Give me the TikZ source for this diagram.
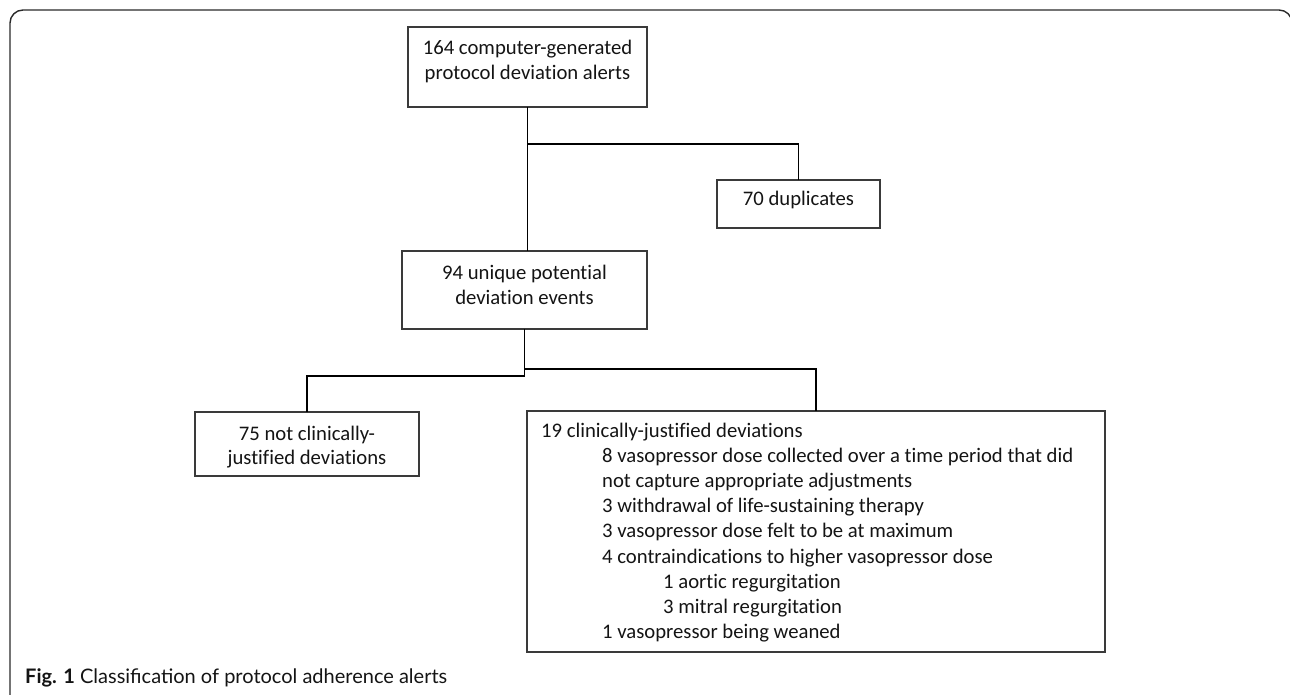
\documentclass[tikz,border=0pt]{standalone}
\usepackage{fontspec}
\setmainfont{Carlito}[RawFeature={-liga;-clig;-calt;-dlig;-rlig}]
\newfontfamily\capfont{Lato}
\usetikzlibrary{calc}
\definecolor{boxgray}{HTML}{3A3A3A}
\definecolor{textcol}{HTML}{141414}
\definecolor{framecol}{HTML}{2A2A2A}
\begin{document}
\begin{tikzpicture}[x=1pt,y=-1pt,
  box/.style={draw=boxgray, line width=1.3pt, anchor=north west, inner sep=0pt, outer sep=0pt},
  conn/.style={draw=black, line width=1.7pt},
  txt/.style={anchor=base, inner sep=0pt, font=\fontsize{20.7}{25}\selectfont, text=textcol},
  ltxt/.style={txt, anchor=base west},
  frameline/.style={draw=framecol, line width=1.4pt, rounded corners=13pt}]
\useasboundingbox (0,0) rectangle (1290,695);
\draw[frameline] (10,695) -- (10,10) -- (1292,10) -- (1292,695);
% boxes
\node[box, minimum width=239pt, minimum height=80pt] (top) at (408,27) {};
\node[box, minimum width=163pt, minimum height=48pt] (dup) at (717,180) {};
\node[box, minimum width=245pt, minimum height=78pt] (unique) at (402,251) {};
\node[box, minimum width=224pt, minimum height=64pt] (notj) at (195,412) {};
\node[box, minimum width=578pt, minimum height=241pt] (just) at (527,411) {};
% texts
\node[txt] (t1a) at ($(top.north)+(0,28)$) {164 computer-generated};
\node[txt] (t1b) at ($(top.north)+(0,53)$) {protocol deviation alerts};
\node[txt] (t2) at ($(dup.north)+(0,26)$) {70 duplicates};
\node[txt] (t3a) at ($(unique.north)+(0,28)$) {94 unique potential};
\node[txt] (t3b) at ($(unique.north)+(0,53)$) {deviation events};
\node[txt] (t4a) at ($(notj.north)+(0,28)$) {75 not clinically-};
\node[txt] (t4b) at ($(notj.north)+(0,52.5)$) {justified deviations};
\node[ltxt] (j0) at ($(just.north west)+(14,26)$) {19 clinically-justified deviations};
\node[ltxt] (j1) at ($(just.north west)+(75,51.2)$) {8 vasopressor dose collected over a time period that did};
\node[ltxt] (j2) at ($(just.north west)+(75,76.4)$) {not capture appropriate adjustments};
\node[ltxt] (j3) at ($(just.north west)+(75,101.6)$) {3 withdrawal of life-sustaining therapy};
\node[ltxt] (j4) at ($(just.north west)+(75,126.8)$) {3 vasopressor dose felt to be at maximum};
\node[ltxt] (j5) at ($(just.north west)+(75,152)$) {4 contraindications to higher vasopressor dose};
\node[ltxt] (j6) at ($(just.north west)+(136,177.2)$) {1 aortic regurgitation};
\node[ltxt] (j7) at ($(just.north west)+(136,202.4)$) {3 mitral regurgitation};
\node[ltxt] (j8) at ($(just.north west)+(75,227.6)$) {1 vasopressor being weaned};
% connectors
\draw[conn] (top.south) -- (top.south |- unique.north);
\draw[conn] ($(top.south)+(0,37)$) -| (dup.north);
\draw[conn] (unique.south) -- ++(0,47) -| (notj.north -| 307,0);
\draw[conn] ($(unique.south)+(0,40)$) -| (just.north);
% caption
\node[anchor=base west, inner sep=0pt, text=textcol, font=\capfont\fontsize{20}{24}\selectfont] (cap) at (25,683) {\textbf{Fig. 1} Classification of protocol adherence alerts};
\end{tikzpicture}
\end{document}
